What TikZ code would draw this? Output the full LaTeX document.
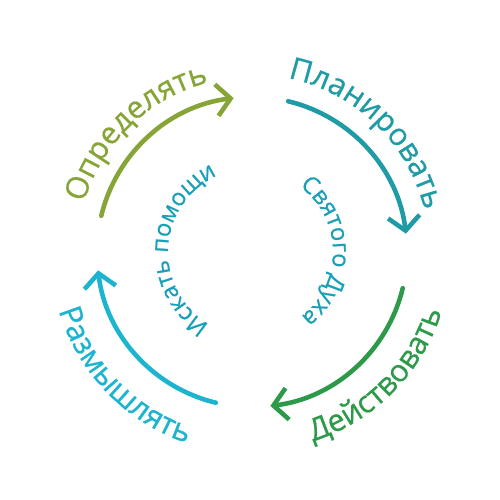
\documentclass[tikz,border=0pt]{standalone}
\usepackage{fontspec}
\setmainfont{Open Sans}
\newfontfamily\labelfamily{Open Sans}[FakeBold=0.6]
\usepackage{xcolor}
\usetikzlibrary{arrows.meta, decorations.text}

\definecolor{defgreen}{RGB}{134,165,54}
\definecolor{planteal}{RGB}{30,155,165}
\definecolor{actgreen}{RGB}{44,154,72}
\definecolor{thinkcyan}{RGB}{28,180,207}
\definecolor{helpteal}{RGB}{26,159,184}

\newcommand{\outerfont}{\labelfamily\fontsize{17.5}{20}\selectfont}
\newcommand{\innerfont}{\labelfamily\fontsize{13.5}{15}\selectfont}

\begin{document}
\begin{tikzpicture}
        % Define styles for the cycle arrows and the curved labels
        \tikzstyle{cyclearrow} = [line width=2.6pt, line cap=round,
                                  -{Straight Barb[length=8pt, width=18pt]}]
        \tikzstyle{curvetext} = [decorate, decoration={text along path, text align=center}]
        \useasboundingbox (-5.04,-4.96) rectangle (4.96,5.04);

        % Start points of the four arcs
        \coordinate (defstart) at (166.5:3.1);
        \coordinate (planstart) at (76.5:3.1);
        \coordinate (actstart) at (-13.5:3.1);
        \coordinate (thinkstart) at (256.5:3.1);

        % Arcs
        \draw [cyclearrow, defgreen] (defstart) arc[start angle=166.5, end angle=96.8, radius=3.1];
        \draw [cyclearrow, planteal] (planstart) arc[start angle=76.5, end angle=6.8, radius=3.1];
        \draw [cyclearrow, actgreen] (actstart) arc[start angle=-13.5, end angle=-83.2, radius=3.1];
        \draw [cyclearrow, thinkcyan] (thinkstart) arc[start angle=256.5, end angle=186.8, radius=3.1];

        % Outer labels
        \path [curvetext, decoration={text={|\outerfont\color{defgreen}|Определять}}]
              (194:3.5) arc[start angle=194, end angle=74, radius=3.5];
        \path [curvetext, decoration={text={|\outerfont\color{planteal}|Планировать}}]
              (106:3.55) arc[start angle=106, end angle=-14, radius=3.55];
        \path [curvetext, decoration={text={|\outerfont\color{actgreen}|Действовать}}]
              (-104.8:3.98) arc[start angle=-104.8, end angle=15.2, radius=3.98];
        \path [curvetext, decoration={text={|\outerfont\color{thinkcyan}|Размышлять}}]
              (164:4.04) arc[start angle=164, end angle=284, radius=4.04];

        % Inner labels
        \path [curvetext, decoration={text={|\innerfont\color{helpteal}|Искать помощи}}]
              (257:1.68) arc[start angle=257, end angle=97, radius=1.68];
        \path [curvetext, decoration={text={|\innerfont\color{helpteal}|Святого Духа}}]
              (80.6:1.62) arc[start angle=80.6, end angle=-79.4, radius=1.62];
\end{tikzpicture}
\end{document}
